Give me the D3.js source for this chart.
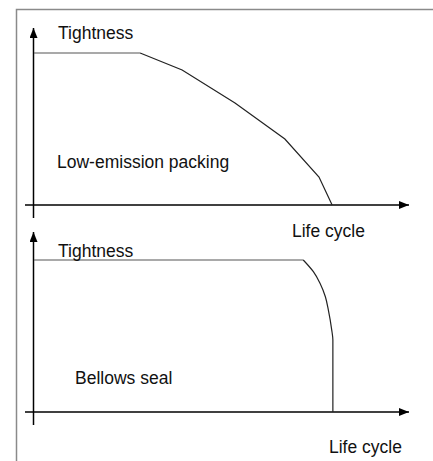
<!DOCTYPE html>
<html>
<head>
<meta charset="utf-8">
<script src="https://cdn.jsdelivr.net/npm/d3@7"></script>
<style>
  body { margin: 0; background: #fff; }
  text { font-family: "Liberation Sans", Arial, sans-serif; font-size: 17.5px; fill: #111; }
</style>
</head>
<body>
<div id="viz"></div>
<script>
// life cycle (0-100) vs tightness (0-100)
const packingLife = [0, 28.3, 39.5, 53.6, 66.9, 76.0, 79.5];
const packingTight = [100, 100, 88.8, 67.1, 43.4, 18.4, 0];

const bellowsLife = [0, 71.8, 74.5, 76.3, 77.7, 78.5, 79.4, 79.7, 79.7];
const bellowsTight = [100, 100, 92.3, 84.6, 75.8, 67.1, 53.9, 47.4, 0];

const panelNames = ["Low-emission packing", "Bellows seal"];
const yLabel = "Tightness";
const xLabel = "Life cycle";

const width = 433, height = 461;
const svg = d3.select("#viz").append("svg")
  .attr("width", width).attr("height", height);

// frame
svg.append("path")
  .attr("d", `M16.5,${height} V9.5 H${width}`)
  .attr("fill", "none")
  .attr("stroke", "#8a8a8a")
  .attr("stroke-width", 1.5);

const x = d3.scaleLinear().domain([0, 100]).range([34, 409]);

svg.append("defs").append("marker")
  .attr("id", "arrow")
  .attr("viewBox", "0 0 10 8")
  .attr("refX", 10).attr("refY", 4)
  .attr("markerWidth", 10).attr("markerHeight", 8)
  .attr("markerUnits", "userSpaceOnUse")
  .attr("orient", "auto")
  .append("path").attr("d", "M0,0 L10,4 L0,8 Z").attr("fill", "#000");

const panels = [
  { name: panelNames[0], life: packingLife, tight: packingTight, base: 205, tip: 28,
    yLab: 39, nameX: 57, nameY: 168, xLabX: 292, xLabY: 237, curve: d3.curveLinear },
  { name: panelNames[1], life: bellowsLife, tight: bellowsTight, base: 412, tip: 232,
    yLab: 257, nameX: 75, nameY: 384, xLabX: 329, xLabY: 453, curve: d3.curveMonotoneY }
];

panels.forEach(p => {
  const y = d3.scaleLinear().domain([0, 100]).range([p.base, p.base - 152]);
  const g = svg.append("g");

  // axes
  g.append("line")
    .attr("x1", 25).attr("x2", 409)
    .attr("y1", p.base).attr("y2", p.base)
    .attr("stroke", "#000").attr("stroke-width", 1.5)
    .attr("marker-end", "url(#arrow)");
  g.append("line")
    .attr("x1", 33.5).attr("x2", 33.5)
    .attr("y1", p.base + 13).attr("y2", p.tip)
    .attr("stroke", "#000").attr("stroke-width", 1.5)
    .attr("marker-end", "url(#arrow)");

  const pts = p.life.map((d, i) => [d, p.tight[i]]);
  const line = d3.line()
    .x(d => x(d[0]))
    .y(d => y(d[1]));

  // flat part
  g.append("path")
    .datum(pts.slice(0, 2))
    .attr("d", line)
    .attr("fill", "none").attr("stroke", "#555").attr("stroke-width", 1.2);
  // declining part
  g.append("path")
    .datum(pts.slice(1))
    .attr("d", line.curve(p.curve))
    .attr("fill", "none").attr("stroke", "#222").attr("stroke-width", 1.2);

  g.append("text").attr("x", 58).attr("y", p.yLab).text(yLabel);
  g.append("text").attr("x", p.nameX).attr("y", p.nameY).text(p.name);
  g.append("text").attr("x", p.xLabX).attr("y", p.xLabY).text(xLabel);
});
</script>
</body>
</html>
